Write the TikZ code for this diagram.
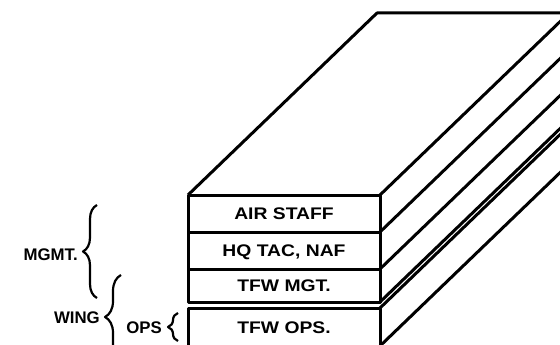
\documentclass[tikz,border=0pt]{standalone}
\usepackage{fontspec}
\setmainfont{Liberation Sans}
\newfontfamily\layerfont{Liberation Sans}[FakeStretch=1.15]
\usetikzlibrary{calc,decorations.pathreplacing}

\begin{document}
\begin{tikzpicture}[x=1pt, y=-1pt, line join=round,
  layer/.style={draw, line width=3pt, minimum width=192pt, minimum height=#1,
                inner sep=0pt, outer sep=0pt, text height=12pt, text depth=0pt,
                font=\layerfont\bfseries\fontsize{16.8}{20}\selectfont},
  edge/.style={line width=3pt},
  grouping/.style={line width=2.2pt, decorate, decoration={brace, amplitude=#1}},
  tag/.style={anchor=east, inner sep=0pt, text height=12pt, text depth=0pt,
              font=\bfseries\fontsize{16.8}{20}\selectfont}]

  \useasboundingbox (0,0) rectangle (560,345);
  \clip (0,0) rectangle (560,345);

  \node[layer=37pt] (air)  at (284,213.5) {AIR STAFF};
  \node[layer=37pt] (hq)   at (284,250.5) {HQ TAC, NAF};
  \node[layer=33pt] (mgt)  at (284,285.5) {TFW MGT.};
  \node[layer=38pt] (ops)  at (284,327)   {TFW OPS.};

  % top face
  \draw[edge] (air.north west) -- ++(189,-182) -- ++(192,0) -- (air.north east);

  % side face
  \foreach \n/\a in {hq/north, mgt/north, mgt/south, ops/north, ops/south}
    \draw[edge] (\n.\a\space east) -- ++(189,-182);

  % groupings
  \draw[grouping=14pt] (97,298) -- (97,205);
  \draw[grouping=16pt] (121,359) -- (121,275);
  \draw[grouping=10pt] (178,341) -- (178,313);

  \node[tag] (mgmt) at (78,254)  {MGMT.};
  \node[tag] (wing) at (100,317) {WING};
  \node[tag] (opsl) at (162,327) {OPS};

\end{tikzpicture}
\end{document}
